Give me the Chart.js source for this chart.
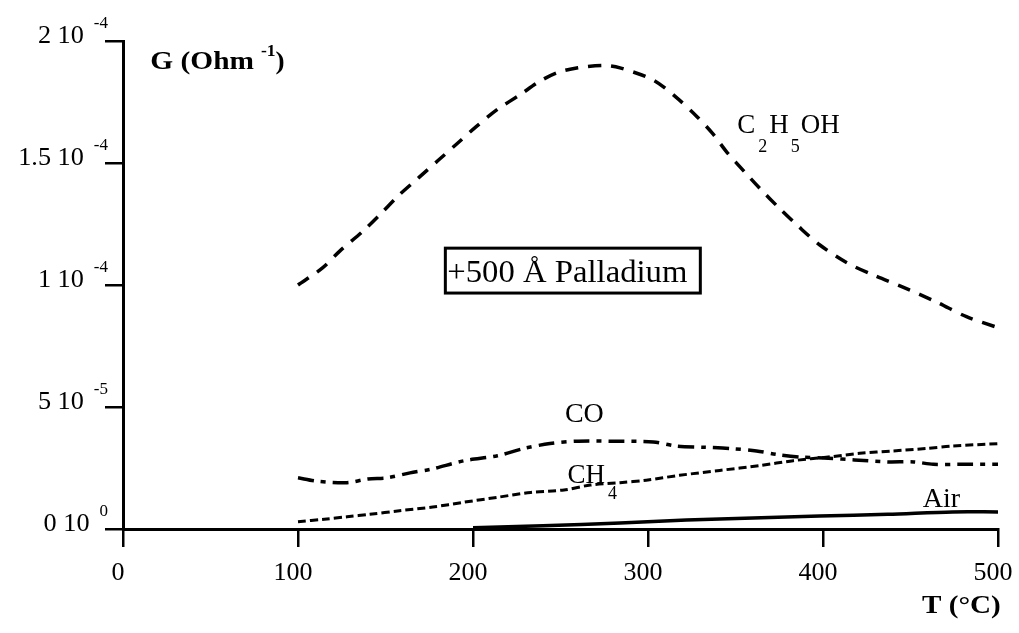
<!DOCTYPE html>
<html>
<head>
<meta charset="utf-8">
<script src="https://cdn.jsdelivr.net/npm/chart.js@4"></script>
<style>
  html, body { margin: 0; padding: 0; background: #fff; }
  #wrap { width: 1019px; height: 633px; position: relative; }
</style>
</head>
<body>
<div id="wrap"><canvas id="sensorChart"></canvas></div>
<script>
// values: T in °C, G in Ohm^-1
const ethanolT = [100, 114, 124, 137, 147, 158, 169, 180, 191, 202, 214, 227, 237, 248, 260, 275, 284, 303, 316, 328, 337, 345, 355, 364, 375, 386, 398, 414, 429, 446, 465, 482, 500];
const ethanolG = [1.00e-4, 1.07e-4, 1.14e-4, 1.22e-4, 1.29e-4, 1.37e-4, 1.44e-4, 1.51e-4, 1.58e-4, 1.65e-4, 1.72e-4, 1.78e-4, 1.83e-4, 1.87e-4, 1.89e-4, 1.90e-4, 1.89e-4, 1.84e-4, 1.77e-4, 1.69e-4, 1.62e-4, 1.545e-4, 1.465e-4, 1.395e-4, 1.315e-4, 1.24e-4, 1.165e-4, 1.09e-4, 1.04e-4, 0.99e-4, 0.93e-4, 0.87e-4, 0.825e-4];

const coT = [100, 111, 128, 140, 151, 164, 176, 195, 214, 229, 244, 260, 279, 303, 316, 332, 347, 362, 374, 387, 403, 418, 437, 452, 463, 478, 500];
const coG = [2.10e-5, 1.96e-5, 1.90e-5, 2.05e-5, 2.10e-5, 2.30e-5, 2.45e-5, 2.80e-5, 3.00e-5, 3.30e-5, 3.50e-5, 3.60e-5, 3.60e-5, 3.57e-5, 3.40e-5, 3.35e-5, 3.30e-5, 3.20e-5, 3.05e-5, 2.95e-5, 2.90e-5, 2.83e-5, 2.75e-5, 2.75e-5, 2.65e-5, 2.65e-5, 2.65e-5];

const ch4T = [100, 115, 128, 141, 158, 177, 195, 214, 233, 252, 267, 284, 299, 318, 341, 364, 383, 403, 421, 440, 459, 474, 500];
const ch4G = [0.30e-5, 0.40e-5, 0.50e-5, 0.60e-5, 0.75e-5, 0.90e-5, 1.10e-5, 1.30e-5, 1.50e-5, 1.60e-5, 1.80e-5, 1.90e-5, 2.00e-5, 2.20e-5, 2.40e-5, 2.60e-5, 2.80e-5, 2.95e-5, 3.10e-5, 3.20e-5, 3.30e-5, 3.40e-5, 3.50e-5];

const airT = [200, 240, 284, 322, 360, 398, 437, 474, 500];
const airG = [0.05e-5, 0.13e-5, 0.25e-5, 0.37e-5, 0.45e-5, 0.53e-5, 0.60e-5, 0.70e-5, 0.70e-5];

const xTicks = [0, 100, 200, 300, 400, 500];
const yTicks = [0, 5e-5, 1e-4, 1.5e-4, 2e-4];
const yTickBase = ["0 10", "5 10", "1 10", "1.5 10", "2 10"];
const yTickExp = ["0", "-5", "-4", "-4", "-4"];

const SERIF = '"Liberation Serif", "Times New Roman", serif';

function toPoints(xs, ys) {
  return xs.map((x, i) => ({ x: x, y: ys[i] }));
}

// draws text pieces left to right: [text, size, dy, bold, gapAfter, stretch]
function drawRich(ctx, x, y, parts) {
  let cx = x;
  parts.forEach((p) => {
    const sx = p[5] || 1;
    ctx.font = (p[3] ? "bold " : "") + p[1] + "px " + SERIF;
    ctx.save();
    ctx.translate(cx, y + p[2]);
    ctx.scale(sx, 1);
    ctx.fillText(p[0], 0, 0);
    ctx.restore();
    cx += ctx.measureText(p[0]).width * sx + (p[4] || 0);
  });
  return cx;
}

const labelsPlugin = {
  id: "labels",
  afterDraw(chart) {
    const ctx = chart.ctx;
    const xs = chart.scales.x;
    const ys = chart.scales.y;
    ctx.save();
    ctx.fillStyle = "#000";
    ctx.textBaseline = "alphabetic";

    // y tick labels with exponents
    ctx.textAlign = "left";
    yTicks.forEach((v, i) => {
      const py = ys.getPixelForValue(v) + 2;
      ctx.font = "17px " + SERIF;
      const ew = ctx.measureText(yTickExp[i]).width;
      ctx.fillText(yTickExp[i], 108 - ew, py - 15);
      ctx.font = "25px " + SERIF;
      const bw = ctx.measureText(yTickBase[i]).width * 1.05;
      ctx.save();
      ctx.translate(108 - ew - 10 - bw, py);
      ctx.scale(1.05, 1);
      ctx.fillText(yTickBase[i], 0, 0);
      ctx.restore();
    });

    // x tick labels
    ctx.textAlign = "center";
    ctx.font = "26px " + SERIF;
    xTicks.forEach((v) => {
      ctx.fillText(String(v), xs.getPixelForValue(v) - 5, chart.chartArea.bottom + 51);
    });

    ctx.textAlign = "left";
    const at = (x, y) => [xs.getPixelForValue(x), ys.getPixelForValue(y)];

    let p = at(15.6, 1.88e-4);
    drawRich(ctx, p[0], p[1] - 1, [["G (Ohm", 26, 0, true, 7, 1.13], ["-1", 16, -13, true, 0, 1.1], [")", 26, 0, true, 0, 1.05]]);

    drawRich(ctx, chart.chartArea.right - 76, chart.chartArea.bottom + 84, [["T (°C)", 26, 0, true, 0, 1.12]]);

    p = at(351, 1.622e-4);
    drawRich(ctx, p[0], p[1], [["C", 27, 0, false, 3], ["2", 18, 19, false, 2], ["H", 27, 0, false, 2], ["5", 18, 19, false, 1], ["OH", 27, 0, false]]);

    p = at(252.5, 0.438e-4);
    drawRich(ctx, p[0], p[1], [["CO", 28, 0, false]]);

    p = at(254, 0.188e-4);
    drawRich(ctx, p[0], p[1], [["CH", 27, 0, false, 3], ["4", 18, 16, false]]);

    p = at(457, 0.09e-4);
    drawRich(ctx, p[0], p[1], [["Air", 28, 0, false]]);

    // boxed label
    const b1 = at(184.2, 1.151e-4);
    const b2 = at(329.9, 0.967e-4);
    ctx.lineWidth = 3;
    ctx.strokeStyle = "#000";
    ctx.strokeRect(b1[0], b1[1], b2[0] - b1[0], b2[1] - b1[1]);
    p = at(185.3, 1.012e-4);
    drawRich(ctx, p[0], p[1], [["+500 Å Palladium", 31, 0, false, 0, 1.055]]);

    ctx.restore();
  }
};

const line = {
  borderColor: "#000",
  pointRadius: 0,
  tension: 0.3,
  fill: false,
  clip: false
};

new Chart(document.getElementById("sensorChart"), {
  type: "line",
  data: {
    datasets: [
      Object.assign({}, line, { label: "C2H5OH", data: toPoints(ethanolT, ethanolG), borderWidth: 3.5, borderDash: [13, 10] }),
      Object.assign({}, line, { label: "CO", data: toPoints(coT, coG), borderWidth: 3.5, borderDash: [16, 7, 5, 7] }),
      Object.assign({}, line, { label: "CH4", data: toPoints(ch4T, ch4G), borderWidth: 3, borderDash: [8, 4] }),
      Object.assign({}, line, { label: "Air", data: toPoints(airT, airG), borderWidth: 3.5 })
    ]
  },
  options: {
    animation: false,
    responsive: true,
    maintainAspectRatio: false,
    layout: { padding: { left: 105, top: 41, right: 21, bottom: 86 } },
    plugins: {
      legend: { display: false },
      tooltip: { enabled: false }
    },
    scales: {
      x: {
        type: "linear",
        min: 0,
        max: 500,
        ticks: { display: false, stepSize: 100 },
        grid: { drawOnChartArea: false, drawTicks: true, tickLength: 18, lineWidth: 2.5, color: "#000" },
        border: { display: true, color: "#000", width: 3 },
        afterFit: (s) => { s.height = 18; }
      },
      y: {
        type: "linear",
        min: 0,
        max: 2e-4,
        ticks: { display: false, stepSize: 5e-5 },
        grid: { drawOnChartArea: false, drawTicks: true, tickLength: 18, lineWidth: 2.5, color: "#000" },
        border: { display: true, color: "#000", width: 3 },
        afterFit: (s) => { s.width = 18; }
      }
    }
  },
  plugins: [labelsPlugin]
});
</script>
</body>
</html>
